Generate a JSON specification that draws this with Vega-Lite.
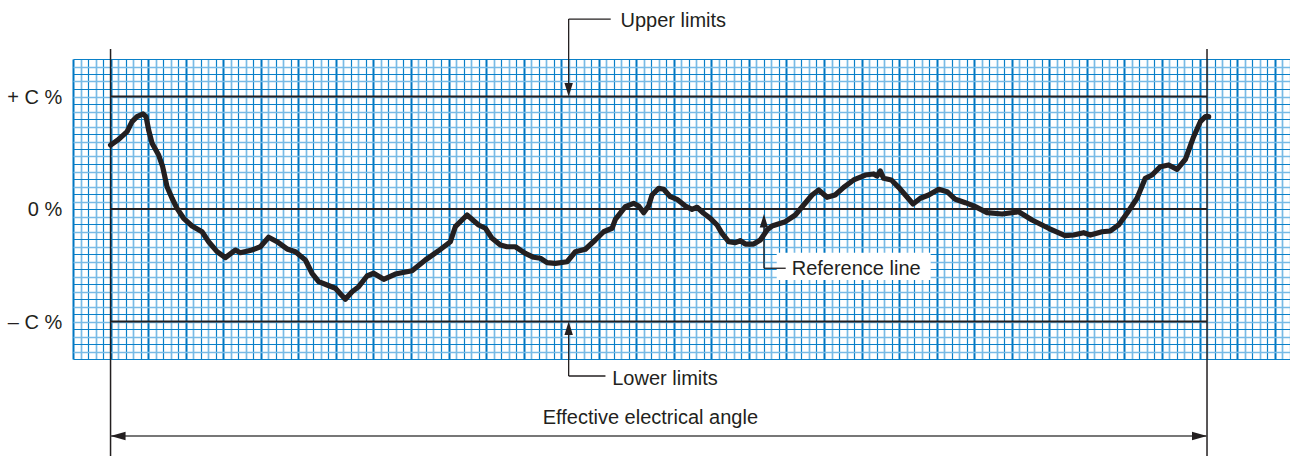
{
  "$schema": "https://vega.github.io/schema/vega-lite/v6.json",
  "width": 1217,
  "height": 300,
  "autosize": {"type": "none"},
  "padding": {"left": 73, "top": 59, "right": 0, "bottom": 97},
  "background": "white",
  "config": {"view": {"stroke": null}, "font": "Liberation Sans"},
  "datasets": {
    "curve": [
      {"a": 0, "d": 8.53}, {"a": 1.08, "d": 9.29}, {"a": 2.2, "d": 10.31}, {"a": 2.86, "d": 11.64}, {"a": 3.53, "d": 12.31},
      {"a": 4.33, "d": 12.67}, {"a": 4.73, "d": 12.31}, {"a": 5.07, "d": 10.53}, {"a": 5.53, "d": 8.76}, {"a": 6.4, "d": 7.2},
      {"a": 6.94, "d": 5.64}, {"a": 7.52, "d": 2.97}, {"a": 8.19, "d": 1.43}, {"a": 8.85, "d": 0.09}, {"a": 9.73, "d": -1.24},
      {"a": 10.85, "d": -2.27}, {"a": 12.18, "d": -3.03}, {"a": 13.06, "d": -4.36}, {"a": 14.18, "d": -5.69}, {"a": 15.29, "d": -6.49},
      {"a": 16.62, "d": -5.47}, {"a": 17.28, "d": -5.83}, {"a": 18.84, "d": -5.47}, {"a": 19.95, "d": -5.03}, {"a": 21.05, "d": -3.77},
      {"a": 22.17, "d": -4.36}, {"a": 23.5, "d": -5.33}, {"a": 24.61, "d": -5.69}, {"a": 25.94, "d": -6.8}, {"a": 26.83, "d": -8.57},
      {"a": 27.71, "d": -9.69}, {"a": 28.83, "d": -10.13}, {"a": 29.93, "d": -10.57}, {"a": 31.26, "d": -12.04}, {"a": 32.16, "d": -11.03},
      {"a": 33.04, "d": -10.36}, {"a": 34.15, "d": -8.93}, {"a": 35.03, "d": -8.57}, {"a": 36.37, "d": -9.37}, {"a": 37.92, "d": -8.67},
      {"a": 40.15, "d": -8.23}, {"a": 41.92, "d": -6.8}, {"a": 43.69, "d": -5.56}, {"a": 45.25, "d": -4.36}, {"a": 45.91, "d": -2.36},
      {"a": 47.47, "d": -0.8}, {"a": 49.01, "d": -2.13}, {"a": 49.91, "d": -2.57}, {"a": 50.8, "d": -3.91}, {"a": 51.9, "d": -4.8},
      {"a": 52.8, "d": -5.03}, {"a": 53.9, "d": -5.03}, {"a": 55.23, "d": -5.91}, {"a": 56.34, "d": -6.44}, {"a": 57.23, "d": -6.57},
      {"a": 58.12, "d": -7.16}, {"a": 59.23, "d": -7.24}, {"a": 60.79, "d": -7.03}, {"a": 61.9, "d": -5.69}, {"a": 63.22, "d": -5.37},
      {"a": 64.55, "d": -4.13}, {"a": 65.66, "d": -3.03}, {"a": 66.78, "d": -2.57}, {"a": 67.22, "d": -1.37}, {"a": 68.55, "d": 0.31},
      {"a": 69.65, "d": 0.76}, {"a": 70.32, "d": 0.4}, {"a": 70.99, "d": -0.49}, {"a": 71.65, "d": 0.4}, {"a": 72.1, "d": 1.87},
      {"a": 72.98, "d": 2.76}, {"a": 73.65, "d": 2.63}, {"a": 74.54, "d": 1.64}, {"a": 75.43, "d": 1.29}, {"a": 76.54, "d": 0.4},
      {"a": 77.43, "d": -0.04}, {"a": 78.1, "d": 0.23}, {"a": 78.97, "d": -0.57}, {"a": 79.87, "d": -1.24}, {"a": 80.76, "d": -2.13},
      {"a": 81.42, "d": -3.24}, {"a": 82.3, "d": -4.36}, {"a": 83.2, "d": -4.49}, {"a": 83.86, "d": -4.23}, {"a": 84.53, "d": -4.67},
      {"a": 85.63, "d": -4.67}, {"a": 86.52, "d": -4.13}, {"a": 87.42, "d": -2.8}, {"a": 88.08, "d": -2.27}, {"a": 89.85, "d": -1.69},
      {"a": 91.18, "d": -0.8}, {"a": 92.29, "d": 0.53}, {"a": 93.41, "d": 1.87}, {"a": 94.29, "d": 2.53}, {"a": 95.41, "d": 1.56},
      {"a": 96.48, "d": 1.87}, {"a": 97.62, "d": 2.89}, {"a": 98.95, "d": 3.87}, {"a": 100.51, "d": 4.53}, {"a": 101.61, "d": 4.67},
      {"a": 102.06, "d": 4.4}, {"a": 102.5, "d": 5.07}, {"a": 102.94, "d": 4.09}, {"a": 103.97, "d": 3.87}, {"a": 104.94, "d": 2.89},
      {"a": 105.83, "d": 1.87}, {"a": 106.86, "d": 0.67}, {"a": 107.83, "d": 1.43}, {"a": 108.94, "d": 1.87}, {"a": 110.27, "d": 2.63},
      {"a": 111.39, "d": 2.31}, {"a": 112.49, "d": 1.29}, {"a": 113.82, "d": 0.84}, {"a": 115.15, "d": 0.31}, {"a": 116.71, "d": -0.49},
      {"a": 118.71, "d": -0.67}, {"a": 120.92, "d": -0.36}, {"a": 122.7, "d": -1.47}, {"a": 124.91, "d": -2.57}, {"a": 127.1, "d": -3.56},
      {"a": 128.24, "d": -3.47}, {"a": 129.57, "d": -3.16}, {"a": 130.47, "d": -3.47}, {"a": 132.02, "d": -3.03}, {"a": 133.13, "d": -2.93},
      {"a": 134.23, "d": -2.13}, {"a": 135.35, "d": -0.57}, {"a": 136.68, "d": 1.43}, {"a": 137.78, "d": 4.09}, {"a": 138.68, "d": 4.53},
      {"a": 139.79, "d": 5.64}, {"a": 140.89, "d": 5.87}, {"a": 142.01, "d": 5.29}, {"a": 143.12, "d": 6.63}, {"a": 144.22, "d": 9.64},
      {"a": 145.11, "d": 11.64}, {"a": 145.78, "d": 12.31}, {"a": 146.22, "d": 12.31}
    ],
    "limits": [
      {"a": 0, "a2": 146, "d": 15},
      {"a": 0, "a2": 146, "d": 0},
      {"a": 0, "a2": 146, "d": -15}
    ],
    "bounds": [
      {"a": 0, "d": 21.33, "d2": -33},
      {"a": 146, "d": 21.33, "d2": -33}
    ],
    "span": [{"a": 0, "a2": 146, "d": -30.27}],
    "leaders": [
      {"a": 61, "d": 16.5, "a2": 61, "d2": 25.33},
      {"a": 61, "d": 25.33, "a2": 66.6, "d2": 25.33},
      {"a": 61, "d": -16.5, "a2": 61, "d2": -22.27},
      {"a": 61, "d": -22.27, "a2": 65.9, "d2": -22.27},
      {"a": 87, "d": -2, "a2": 87, "d2": -7.9},
      {"a": 87, "d": -7.9, "a2": 89.9, "d2": -7.9}
    ],
    "heads": [
      {"a": 0, "d": -30.27, "dir": "left"},
      {"a": 146, "d": -30.27, "dir": "right"},
      {"a": 61, "d": 15, "dir": "down"},
      {"a": 61, "d": -15, "dir": "up"},
      {"a": 87, "d": -0.67, "dir": "up"}
    ],
    "box": [{"a": 88.7, "a2": 109.2, "d": -5.83, "d2": -9.47}],
    "leftText": [
      {"a": 67.9, "d": 24.23, "label": "Upper limits"},
      {"a": 66.8, "d": -23.47, "label": "Lower limits"},
      {"a": 90.7, "d": -8.8, "label": "Reference line"}
    ],
    "rightText": [
      {"a": -6.42, "d": 14.04, "label": "+ C %"},
      {"a": -6.42, "d": -0.93, "label": "0 %"},
      {"a": -6.42, "d": -16.0, "label": "– C %"}
    ],
    "centerText": [
      {"a": 71.88, "d": -28.67, "label": "Effective electrical angle"}
    ]
  },
  "encoding": {
    "x": {
      "field": "a",
      "type": "quantitative",
      "scale": {"domain": [-5, 157.05], "nice": false, "zero": false},
      "axis": {
        "values": [-5,-4,-3,-2,-1,0,1,2,3,4,5,6,7,8,9,10,11,12,13,14,15,16,17,18,19,20,21,22,23,24,25,26,27,28,29,30,31,32,33,34,35,36,37,38,39,40,41,42,43,44,45,46,47,48,49,50,51,52,53,54,55,56,57,58,59,60,61,62,63,64,65,66,67,68,69,70,71,72,73,74,75,76,77,78,79,80,81,82,83,84,85,86,87,88,89,90,91,92,93,94,95,96,97,98,99,100,101,102,103,104,105,106,107,108,109,110,111,112,113,114,115,116,117,118,119,120,121,122,123,124,125,126,127,128,129,130,131,132,133,134,135,136,137,138,139,140,141,142,143,144,145,146,147,148,149,150,151,152,153,154,155,156,157],
        "grid": true, "labels": false, "ticks": false, "domain": false, "title": null,
        "gridOpacity": 1,
        "gridColor": {"condition": [
          {"test": "(datum.value % 5 + 5) % 5 === 0", "value": "#0077c2"},
          {"test": "((datum.value % 5 + 5) % 5) % 2 === 1", "value": "#78bbe6"}
        ], "value": "#0a80c8"},
        "gridWidth": {"condition": [
          {"test": "(datum.value % 5 + 5) % 5 === 0", "value": 2},
          {"test": "((datum.value % 5 + 5) % 5) % 2 === 1", "value": 1.7}
        ], "value": 1.2}
      }
    },
    "y": {
      "field": "d",
      "type": "quantitative",
      "scale": {"domain": [-20, 20], "nice": false, "zero": false},
      "axis": {
        "values": [-20,-19,-18,-17,-16,-15,-14,-13,-12,-11,-10,-9,-8,-7,-6,-5,-4,-3,-2,-1,0,1,2,3,4,5,6,7,8,9,10,11,12,13,14,15,16,17,18,19,20],
        "grid": true, "labels": false, "ticks": false, "domain": false, "title": null,
        "gridOpacity": 1,
        "gridColor": {"condition": [
          {"test": "(datum.value % 2 + 2) % 2 === 1", "value": "#78bbe6"}
        ], "value": "#0a80c8"},
        "gridWidth": {"condition": [
          {"test": "(datum.value % 2 + 2) % 2 === 1", "value": 1.7}
        ], "value": 1.2}
      }
    }
  },
  "layer": [
    {
      "data": {"name": "box"},
      "mark": {"type": "rect", "fill": "white"},
      "encoding": {"x2": {"field": "a2"}, "y2": {"field": "d2"}}
    },
    {
      "data": {"name": "limits"},
      "mark": {"type": "rule", "color": "#231f20", "strokeWidth": 2},
      "encoding": {"x2": {"field": "a2"}}
    },
    {
      "data": {"name": "bounds"},
      "mark": {"type": "rule", "color": "#231f20", "strokeWidth": 1.5},
      "encoding": {"y2": {"field": "d2"}}
    },
    {
      "data": {"name": "span"},
      "mark": {"type": "rule", "color": "#4a4a4a", "strokeWidth": 1.5},
      "encoding": {"x2": {"field": "a2"}}
    },
    {
      "data": {"name": "leaders"},
      "mark": {"type": "rule", "color": "#231f20", "strokeWidth": 1.3},
      "encoding": {"x2": {"field": "a2"}, "y2": {"field": "d2"}}
    },
    {
      "data": {"name": "heads"},
      "mark": {"type": "point", "filled": true, "color": "#231f20", "opacity": 1, "size": 225, "strokeWidth": 0},
      "encoding": {
        "shape": {
          "field": "dir",
          "type": "nominal",
          "legend": null,
          "scale": {
            "domain": ["left", "right", "up", "down"],
            "range": ["M0,0L2,-0.56L2,0.56Z", "M0,0L-2,-0.56L-2,0.56Z", "M0,0L-0.56,1.8L0.56,1.8Z", "M0,0L-0.56,-1.8L0.56,-1.8Z"]
          }
        }
      }
    },
    {
      "data": {"name": "curve"},
      "mark": {"type": "line", "color": "#231f20", "strokeWidth": 5.2, "strokeJoin": "round", "strokeCap": "round"}
    },
    {
      "data": {"name": "leftText"},
      "mark": {"type": "text", "align": "left", "baseline": "alphabetic", "fontSize": 20, "color": "#231f20"},
      "encoding": {"text": {"field": "label"}}
    },
    {
      "data": {"name": "rightText"},
      "mark": {"type": "text", "align": "right", "baseline": "alphabetic", "fontSize": 20, "color": "#231f20"},
      "encoding": {"text": {"field": "label"}}
    },
    {
      "data": {"name": "centerText"},
      "mark": {"type": "text", "align": "center", "baseline": "alphabetic", "fontSize": 20, "color": "#231f20"},
      "encoding": {"text": {"field": "label"}}
    }
  ]
}
